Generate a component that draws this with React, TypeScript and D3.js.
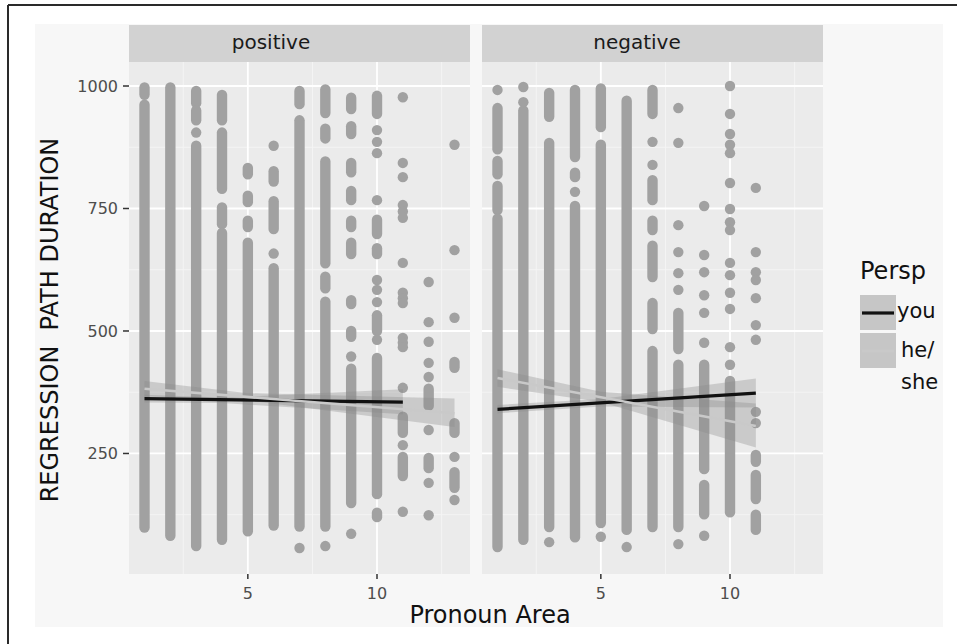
import React from 'react';
import * as d3 from 'd3';

// facets and groups
const panels = ['positive', 'negative'];
const persp = ['you', 'he/\nshe'];
const xTicks = [5, 10];
const xMinor = [2.5, 7.5, 12.5];
const yTicks = [250, 500, 750, 1000];
const yMinor = [125, 375, 625, 875];

// dense stacks of points per Pronoun Area: [x, low, high]
const posRuns: [number, number, number][] = [
  [1, 982, 997], [1, 99, 962],
  [2, 82, 997],
  [3, 965, 990], [3, 930, 950], [3, 61, 878],
  [4, 930, 982], [4, 790, 905], [4, 718, 752], [4, 74, 700],
  [5, 820, 833], [5, 763, 776], [5, 712, 725], [5, 91, 680],
  [6, 805, 826], [6, 708, 765], [6, 103, 628],
  [7, 963, 990], [7, 101, 930],
  [8, 945, 993], [8, 893, 913], [8, 638, 846], [8, 587, 611], [8, 101, 560],
  [9, 953, 976], [9, 902, 918], [9, 824, 843], [9, 767, 786], [9, 712, 725],
  [9, 657, 680], [9, 555, 563], [9, 488, 500], [9, 149, 423],
  [10, 943, 980], [10, 698, 727], [10, 657, 669], [10, 500, 532], [10, 167, 445], [10, 120, 129],
  [11, 292, 325], [11, 204, 243],
  [12, 347, 382], [12, 220, 241],
  [13, 425, 437], [13, 292, 312], [13, 180, 212],
];
// isolated points: [x, value]
const posPoints: [number, number][] = [
  [3, 905], [6, 878], [6, 658], [7, 57], [8, 61],
  [9, 448], [9, 86],
  [10, 910], [10, 886], [10, 863], [10, 767], [10, 604], [10, 584], [10, 559], [10, 482],
  [11, 977], [11, 843], [11, 814], [11, 757], [11, 744], [11, 731], [11, 639], [11, 578],
  [11, 567], [11, 557], [11, 486], [11, 476], [11, 467], [11, 384], [11, 267], [11, 131],
  [12, 600], [12, 518], [12, 478], [12, 435], [12, 406], [12, 298], [12, 190], [12, 124],
  [13, 880], [13, 665], [13, 527], [13, 243], [13, 155],
];

const negRuns: [number, number, number][] = [
  [1, 871, 955], [1, 820, 847], [1, 747, 796], [1, 59, 729],
  [2, 74, 950],
  [3, 937, 986], [3, 100, 884],
  [4, 855, 992], [4, 814, 823], [4, 79, 755],
  [5, 916, 995], [5, 108, 880],
  [6, 94, 970],
  [7, 943, 992], [7, 767, 808], [7, 706, 725], [7, 610, 674], [7, 504, 557], [7, 100, 459],
  [8, 463, 537], [8, 100, 431],
  [9, 218, 431], [9, 126, 186],
  [10, 130, 398],
  [11, 233, 247], [11, 157, 206], [11, 94, 125],
];
const negPoints: [number, number][] = [
  [1, 992], [2, 998], [2, 967], [3, 69], [4, 784], [5, 80], [6, 59],
  [7, 886], [7, 839],
  [8, 955], [8, 884], [8, 716], [8, 661], [8, 618], [8, 584], [8, 65],
  [9, 755], [9, 655], [9, 620], [9, 573], [9, 537], [9, 476], [9, 82],
  [10, 1000], [10, 943], [10, 902], [10, 880], [10, 863], [10, 802], [10, 749], [10, 722],
  [10, 706], [10, 639], [10, 614], [10, 578], [10, 545], [10, 467], [10, 431],
  [11, 792], [11, 661], [11, 620], [11, 604], [11, 567], [11, 512], [11, 482], [11, 335], [11, 312],
];

// linear fits: [x, fit] and confidence bands [x, low, high]
const posYouFit = [[1, 362], [11, 355]];
const posYouBand = [[1, 354, 370], [4, 353, 364], [11, 330, 381]];
const posSheFit = [[1, 382], [13, 332]];
const posSheBand = [[1, 367, 398], [5, 358, 373], [13, 304, 362]];
const negYouFit = [[1, 340], [11, 373]];
const negYouBand = [[1, 332, 349], [5, 346, 361], [11, 344, 403]];
const negSheFit = [[1, 404], [11, 306]];
const negSheBand = [[1, 386, 422], [5, 355, 376], [11, 262, 352]];

const font = '"DejaVu Sans", sans-serif';
const ptColor = '#a1a1a1';
const lineColors = ['#111111', '#c9c9c9'];
const R = 5.2;

const y = d3.scaleLinear().domain([4, 1049]).range([574, 62]);
const panelRange: [number, number][] = [[129, 470], [482, 823]];
const stripLabelX = [271, 637];

function Panel({ i, runs, points, fits, bands }: any) {
  const x = d3.scaleLinear().domain([0.4, 13.6]).range(panelRange[i]);
  const [x0, x1] = panelRange[i];
  const area = d3.area<number[]>().x(d => x(d[0])).y0(d => y(d[1])).y1(d => y(d[2]));
  const line = d3.line<number[]>().x(d => x(d[0])).y(d => y(d[1]));
  return (
    <g>
      <rect x={x0} y={62} width={x1 - x0} height={512} fill="#ebebeb" />
      {yMinor.map(t => <line key={'ym' + t} x1={x0} x2={x1} y1={y(t)} y2={y(t)} stroke="#f5f5f5" strokeWidth={0.9} />)}
      {xMinor.map(t => <line key={'xm' + t} x1={x(t)} x2={x(t)} y1={62} y2={574} stroke="#f5f5f5" strokeWidth={0.9} />)}
      {yTicks.map(t => <line key={'y' + t} x1={x0} x2={x1} y1={y(t)} y2={y(t)} stroke="#ffffff" strokeWidth={1.8} />)}
      {xTicks.map(t => <line key={'x' + t} x1={x(t)} x2={x(t)} y1={62} y2={574} stroke="#ffffff" strokeWidth={1.8} />)}
      {runs.map((r: number[], k: number) => (
        <line key={'r' + k} x1={x(r[0])} x2={x(r[0])} y1={y(r[1])} y2={y(r[2])}
          stroke={ptColor} strokeWidth={R * 2} strokeLinecap="round" />
      ))}
      {points.map((p: number[], k: number) => (
        <circle key={'p' + k} cx={x(p[0])} cy={y(p[1])} r={R} fill={ptColor} />
      ))}
      {bands.map((b: number[][], k: number) => (
        <path key={'b' + k} d={area(b) || ''} fill="#8a8a8a" fillOpacity={0.33} />
      ))}
      {fits.map((f: number[][], k: number) => (
        <path key={'f' + k} d={line(f) || ''} fill="none" stroke={lineColors[k]} strokeWidth={k === 0 ? 3.2 : 2.6} />
      ))}
      <rect x={x0} y={25} width={x1 - x0} height={37} fill="#d2d2d2" />
      <text x={stripLabelX[i]} y={49} textAnchor="middle" fontFamily={font} fontSize={20} fill="#1a1a1a">{panels[i]}</text>
      {xTicks.map(t => (
        <g key={'xt' + t}>
          <line x1={x(t)} x2={x(t)} y1={574} y2={579} stroke="#333" strokeWidth={1.5} />
          <text x={x(t)} y={599} textAnchor="middle" fontFamily={font} fontSize={16} fill="#4d4d4d">{t}</text>
        </g>
      ))}
    </g>
  );
}

export default function App() {
  return (
    <svg width={957} height={644} style={{ position: 'absolute', left: 0, top: 0 }}>
      <rect width={957} height={644} fill="#ffffff" />
      <rect x={35} y={24} width={908} height={603} fill="#f7f7f7" />
      <line x1={8} x2={957} y1={5} y2={5} stroke="#2a2a2a" strokeWidth={2} />
      <line x1={8} x2={8} y1={5} y2={644} stroke="#2a2a2a" strokeWidth={2} />

      <Panel i={0} runs={posRuns} points={posPoints} fits={[posYouFit, posSheFit]} bands={[posYouBand, posSheBand]} />
      <Panel i={1} runs={negRuns} points={negPoints} fits={[negYouFit, negSheFit]} bands={[negYouBand, negSheBand]} />

      {yTicks.map(t => (
        <g key={'yt' + t}>
          <line x1={123} x2={129} y1={y(t)} y2={y(t)} stroke="#333" strokeWidth={1.5} />
          <text x={118} y={y(t)} dy="0.36em" textAnchor="end" fontFamily={font} fontSize={16} fill="#4d4d4d">{t}</text>
        </g>
      ))}

      <text transform="translate(58,320) rotate(-90)" textAnchor="middle" fontFamily={font} fontSize={24} fill="#111" style={{ whiteSpace: 'pre' }}>
        {'REGRESSION  PATH DURATION'}
      </text>
      <text x={490} y={623} textAnchor="middle" fontFamily={font} fontSize={24} fill="#111">Pronoun Area</text>

      <text x={860} y={279} fontFamily={font} fontSize={24} fill="#111">Persp</text>
      {persp.map((p, k) => (
        <g key={p}>
          <rect x={860} y={295 + k * 38} width={36} height={35} fill="#c6c6c6" />
          <line x1={862} x2={894} y1={313 + k * 38} y2={313 + k * 38} stroke={lineColors[k]} strokeWidth={k === 0 ? 3.2 : 2.6} />
        </g>
      ))}
      <text x={897} y={318} fontFamily={font} fontSize={21} fill="#111">{persp[0]}</text>
      {persp[1].split('\n').map((s, k) => (
        <text key={s} x={901} y={357 + k * 32} fontFamily={font} fontSize={21} fill="#111">{s}</text>
      ))}
    </svg>
  );
}
